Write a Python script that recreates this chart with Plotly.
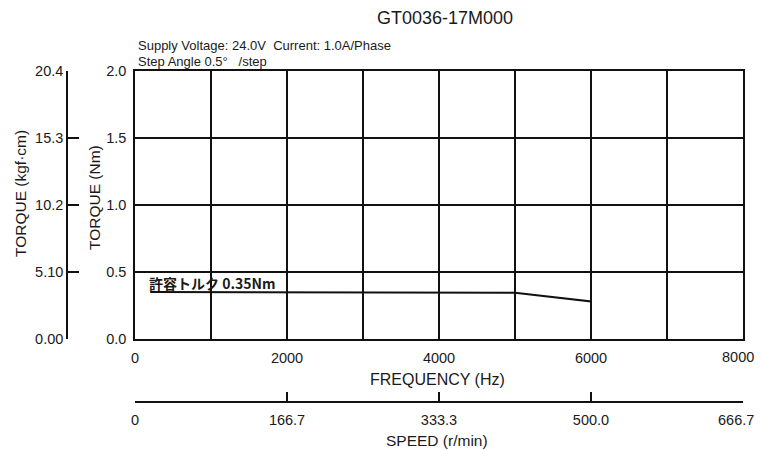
import plotly.graph_objects as go

# data
freq_hz = [200, 1000, 2000, 3000, 4000, 5000, 6000, 6000]
torque_nm = [0.35, 0.35, 0.35, 0.35, 0.35, 0.345, 0.28, 0.0]

freq_ticks = [0, 1000, 2000, 3000, 4000, 5000, 6000, 7000, 8000]
freq_ticktext = ["0", "", "2000", "", "4000", "", "6000", "", "8000"]
nm_ticks = [0.0, 0.5, 1.0, 1.5, 2.0]
nm_ticktext = ["0.0", "0.5", "1.0", "1.5", "2.0"]
kgf_ticks = [0.0, 5.1, 10.2, 15.3, 20.4]
kgf_ticktext = ["0.00", "5.10", "10.2", "15.3", "20.4"]
speed_ticks = [0, 166.7, 333.3, 500.0, 666.67]
speed_ticktext = ["0", "166.7", "333.3", "500.0", "666.7"]

# page has an 8px body margin, so the figure is smaller and coordinates are shifted
OFF = 8
W, H = 762 - OFF, 450 - OFF
FONT = "Liberation Sans, Arial, sans-serif"
TXT = "#1a1a1a"
TICK = 14.5


def px(x):
    return (x - OFF) / W


def py(y):
    return 1 - (y - OFF) / H


xd = [px(135), px(743)]
yd = [py(339), py(71)]

# the right-most labels sit at the page edge; draw them right-aligned as annotations
freq_axis_text = freq_ticktext[:-1] + [""]
speed_axis_text = speed_ticktext[:-1] + [""]

fig = go.Figure()
fig.add_trace(go.Scatter(x=freq_hz, y=torque_nm, mode="lines",
                         line=dict(color="#111111", width=2), showlegend=False,
                         hoverinfo="skip"))
# invisible traces to hold the auxiliary axes
fig.add_trace(go.Scatter(x=[0, 0], y=[0, 20.4], xaxis="x", yaxis="y2", mode="markers",
                         marker=dict(opacity=0), showlegend=False, hoverinfo="skip"))
fig.add_trace(go.Scatter(x=[0, 666.67], y=[0, 0], xaxis="x3", yaxis="y", mode="markers",
                         marker=dict(opacity=0), showlegend=False, hoverinfo="skip"))

fig.update_layout(
    width=W, height=H,
    margin=dict(l=0, r=0, t=0, b=0, autoexpand=False),
    paper_bgcolor="white", plot_bgcolor="white",
    font=dict(family=FONT, size=12, color=TXT),
    xaxis=dict(domain=xd, range=[0, 8000], tickvals=freq_ticks, ticktext=freq_axis_text,
               showgrid=True, gridcolor="#111111", gridwidth=1.5,
               showline=True, linecolor="#111111", linewidth=1.5, mirror=True,
               ticks="", zeroline=False, anchor="y", automargin=False,
               tickfont=dict(size=TICK, color=TXT), ticklabelstandoff=5),
    yaxis=dict(domain=yd, range=[0, 2.0], tickvals=nm_ticks, ticktext=nm_ticktext,
               showgrid=True, gridcolor="#111111", gridwidth=1.5,
               showline=True, linecolor="#111111", linewidth=1.5, mirror=True,
               ticks="", zeroline=False, anchor="x", automargin=False,
               tickfont=dict(size=TICK, color=TXT), ticklabelstandoff=4),
    yaxis2=dict(range=[0, 20.4], tickvals=kgf_ticks, ticktext=kgf_ticktext,
                overlaying="y", anchor="free", position=px(67), side="left",
                showgrid=False, zeroline=False, automargin=False,
                showline=True, linecolor="#111111", linewidth=1.5,
                ticks="inside", ticklen=11, tickwidth=1.5, tickcolor="#111111",
                tickfont=dict(size=TICK, color=TXT), ticklabelstandoff=0),
    xaxis3=dict(domain=xd, range=[0, 666.67], tickvals=speed_ticks, ticktext=speed_axis_text,
                overlaying="x", anchor="free", position=py(402), side="bottom",
                showgrid=False, zeroline=False, automargin=False,
                showline=True, linecolor="#111111", linewidth=1.5,
                ticks="inside", ticklen=9, tickwidth=1.5, tickcolor="#111111",
                tickfont=dict(size=TICK, color=TXT), ticklabelstandoff=5),
)

annos = [
    dict(text="GT0036-17M000", x=px(445), y=py(18), xref="paper", yref="paper",
         showarrow=False, font=dict(size=18, color=TXT), xanchor="center", yanchor="middle"),
    dict(text="Supply Voltage: 24.0V  Current: 1.0A/Phase", x=px(136), y=py(45),
         xref="paper", yref="paper", showarrow=False, font=dict(size=13, color=TXT),
         xanchor="left", yanchor="middle"),
    dict(text="Step Angle 0.5°   /step", x=px(136), y=py(61),
         xref="paper", yref="paper", showarrow=False, font=dict(size=13, color=TXT),
         xanchor="left", yanchor="middle"),
    dict(text="TORQUE (kgf·cm)", x=px(20), y=py(194), xref="paper", yref="paper",
         showarrow=False, textangle=-90, font=dict(size=15.5, color=TXT),
         xanchor="center", yanchor="middle"),
    dict(text="TORQUE (Nm)", x=px(94), y=py(198), xref="paper", yref="paper",
         showarrow=False, textangle=-90, font=dict(size=15.5, color=TXT),
         xanchor="center", yanchor="middle"),
    dict(text="FREQUENCY (Hz)", x=px(437), y=py(379), xref="paper", yref="paper",
         showarrow=False, font=dict(size=16, color=TXT), xanchor="center", yanchor="middle"),
    dict(text="SPEED (r/min)", x=px(437), y=py(440), xref="paper", yref="paper",
         showarrow=False, font=dict(size=15.5, color=TXT), xanchor="center", yanchor="middle"),
    dict(text=freq_ticktext[-1], x=freq_ticks[-1], y=py(357), xref="x", yref="paper",
         showarrow=False, font=dict(size=TICK, color=TXT), xanchor="right",
         yanchor="middle", xshift=13),
    dict(text=speed_ticktext[-1], x=speed_ticks[-1], y=py(420), xref="x3", yref="paper",
         showarrow=False, font=dict(size=TICK, color=TXT), xanchor="right",
         yanchor="middle", xshift=13),
    dict(text="<b>許容トルク 0.35Nm</b>", x=freq_hz[0], y=torque_nm[0], xref="x", yref="y",
         showarrow=False, font=dict(size=14, color=TXT, family="Noto Sans CJK JP, Liberation Sans"),
         xanchor="left", yanchor="bottom", xshift=-3, yshift=-3),
]
fig.update_layout(annotations=annos)

fig.write_html("out.html")
